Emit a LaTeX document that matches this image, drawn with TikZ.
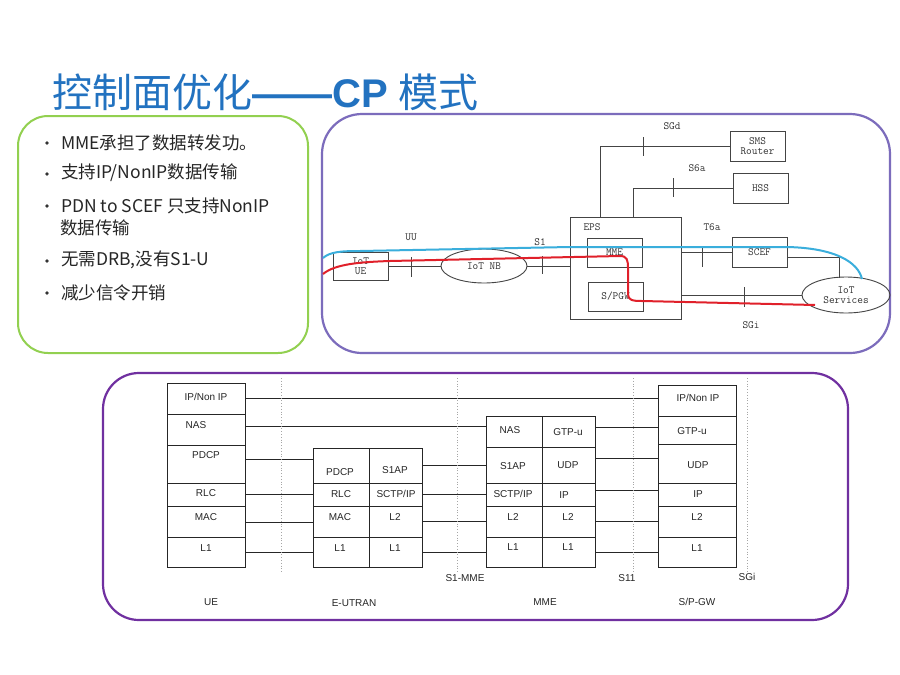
\documentclass[tikz,border=0pt]{standalone}
\usepackage{fontspec}
\setmainfont{Liberation Sans}
\newfontfamily\cjk{Noto Sans CJK SC}
\usetikzlibrary{shapes.geometric}
\definecolor{titleblue}{HTML}{2272C0}
\definecolor{boxgreen}{HTML}{92D050}
\definecolor{boxlav}{HTML}{7C6CBC}
\definecolor{boxpurple}{HTML}{7030A0}
\definecolor{netgray}{HTML}{444444}
\definecolor{curvered}{HTML}{E0202A}
\definecolor{curveblue}{HTML}{3AAEDC}
\newcommand\stkcell[5]{\node[cell, minimum width=#4, minimum height=#5, anchor=north west] (#1) at (#2,#3) {};}
\begin{document}
\begin{tikzpicture}[x=1pt,y=-1pt,
 netbox/.style={draw=netgray, line width=0.9pt, inner sep=0, font=\ttfamily\fontsize{11}{10}\selectfont, text=black!80, align=center},
 netell/.style={netbox, ellipse},
 netlbl/.style={inner sep=0, font=\ttfamily\fontsize{11}{11}\selectfont, text=black!80},
 netline/.style={draw=netgray, line width=0.9pt},
 cell/.style={draw=black!85, line width=0.9pt, inner sep=0},
 stk/.style={inner sep=0, font=\fontsize{10}{12}\selectfont, text=black!85},
 link/.style={draw=black!85, line width=0.8pt},
 sepline/.style={draw=gray!70, dotted, line width=0.8pt},
 bul/.style={inner sep=0, anchor=west, font=\cjk\fontsize{17.5}{22}\selectfont, text=black!85},
 dotb/.style={circle, fill=black!80, inner sep=0, minimum size=3.6pt},
]
\path[use as bounding box, fill=white] (0,0) rectangle (900,675);

% title
\node[anchor=west, inner sep=0, text=titleblue] (title) at (52,92)
  {\cjk\fontsize{40}{40}\selectfont 控制面优化{\rmfamily\bfseries\fontsize{40}{40}\selectfont ——CP }模式};

% frames
\draw[boxgreen, line width=2pt, rounded corners=30pt] (18,116) rectangle (308,353);
\draw[boxlav, line width=2.2pt, rounded corners=40pt] (322,114) rectangle (890,353);
\draw[boxpurple, line width=2.2pt, rounded corners=36pt] (103,373) rectangle (848,620);

% bullets
\node[dotb] (d1) at (47,143) {};
\node[dotb] (d2) at (47,174) {};
\node[dotb] (d3) at (47,206) {};
\node[dotb] (d4) at (47,261) {};
\node[dotb] (d5) at (47,293) {};
\node[bul] (b1) at (61,143) {MME承担了数据转发功。};
\node[bul] (b2) at (61,173) {支持IP/NonIP数据传输};
\node[bul] (b3) at (61,206) {PDN to SCEF 只支持NonIP};
\node[bul] (b3b) at (60,228) {数据传输};
\node[bul] (b4) at (61,260) {无需DRB,没有S1-U};
\node[bul] (b5) at (61,293) {减少信令开销};

% ---------- network diagram ----------
\node[netbox, minimum width=111, minimum height=102] (eps) at (625.5,268) {};
\node[netlbl] (epsl) at (592,227) {EPS};
\node[netbox, minimum width=55, minimum height=28] (ue) at (360.5,266) {IoT\\UE};
\node[netell, minimum width=86, minimum height=34] (nb) at (484,266) {IoT NB};
\node[netbox, minimum width=55, minimum height=29] (mme) at (614.5,252.5) {MME};
\node[netbox, minimum width=55, minimum height=29] (pgw) at (615.5,296.5) {S/PGW};
\node[netbox, minimum width=55, minimum height=30] (sms) at (757.5,146) {SMS\\Router};
\node[netbox, minimum width=55, minimum height=30] (hss) at (760.5,188) {HSS};
\node[netbox, minimum width=55, minimum height=30] (scef) at (759.5,252) {SCEF};
\node[netell, minimum width=88, minimum height=36] (ios) at (846,295) {IoT\\Services};

\node[netlbl] (luu) at (411,237) {UU};
\node[netlbl] (ls1) at (540,242) {S1};
\node[netlbl] (lsgd) at (672,126) {SGd};
\node[netlbl] (ls6a) at (697,168) {S6a};
\node[netlbl] (lt6a) at (712,227) {T6a};
\node[netlbl] (lsgi) at (751,325) {SGi};

\coordinate (sgdc) at (600,146);
\coordinate (s6ac) at (633,188);
\coordinate (scefc) at (839,257);
\coordinate (iostop) at (839,277.5);

\draw[netline] (ue.east) -- (nb.west);
\draw[netline] (nb.east) -- (nb.east -| eps.west);
\draw[netline] (sgdc |- eps.north) -- (sgdc) -- (sms.west);
\draw[netline] (s6ac |- eps.north) -- (s6ac) -- (hss.west);
\draw[netline] (eps.east |- scef.west) -- (scef.west);
\draw[netline] (scef.east |- scefc) -- (scefc) -- (iostop);
\draw[netline] (eps.east |- ios.west) -- (ios.west);
% ticks
\draw[netline] (411,257) -- (411,277);
\draw[netline] (542,256) -- (542,274);
\draw[netline] (643,137) -- (643,156);
\draw[netline] (673,178) -- (673,197);
\draw[netline] (702,248) -- (702,267);
\draw[netline] (744,287) -- (744,307);

% flows
\draw[curveblue, line width=2pt] (323,258) .. controls (330,252) and (340,251) .. (360,251)
  -- (570,247) -- (787,247) .. controls (835,248) and (858,262) .. (862,279);
\draw[curvered, line width=2pt] (323,274) .. controls (335,264) and (360,262) .. (390,261)
  -- (620,256) .. controls (627,256) and (628,260) .. (628,268) -- (628,294)
  .. controls (628,300) and (632,301) .. (642,301) -- (815,305);

% ---------- protocol stacks ----------
\stkcell{ueA}{167}{383}{78}{31}
\stkcell{ueB}{167}{414}{78}{31}
\stkcell{ueC}{167}{445}{78}{38}
\stkcell{ueD}{167}{483}{78}{23}
\stkcell{ueE}{167}{506}{78}{31}
\stkcell{ueF}{167}{537}{78}{30}

\stkcell{enA}{313}{448}{56}{35} \stkcell{enB}{369}{448}{53}{35}
\stkcell{enC}{313}{483}{56}{23} \stkcell{enD}{369}{483}{53}{23}
\stkcell{enE}{313}{506}{56}{31} \stkcell{enF}{369}{506}{53}{31}
\stkcell{enG}{313}{537}{56}{30} \stkcell{enH}{369}{537}{53}{30}

\stkcell{mmA}{486}{416}{56}{31} \stkcell{mmB}{542}{416}{53}{31}
\stkcell{mmC}{486}{447}{56}{36} \stkcell{mmD}{542}{447}{53}{36}
\stkcell{mmE}{486}{483}{56}{23} \stkcell{mmF}{542}{483}{53}{23}
\stkcell{mmG}{486}{506}{56}{31} \stkcell{mmH}{542}{506}{53}{31}
\stkcell{mmI}{486}{537}{56}{30} \stkcell{mmJ}{542}{537}{53}{30}

\stkcell{gwA}{658}{385}{78}{31}
\stkcell{gwB}{658}{416}{78}{28}
\stkcell{gwC}{658}{444}{78}{39}
\stkcell{gwD}{658}{483}{78}{23}
\stkcell{gwE}{658}{506}{78}{31}
\stkcell{gwF}{658}{537}{78}{30}

\draw[link] (ueA.east |- 0,398) -- (gwA.west |- 0,398);
\draw[link] (ueB.east |- 0,426) -- (mmA.west |- 0,426);
\draw[link] (ueC.east |- 0,459) -- (enA.west |- 0,459);
\draw[link] (ueD.east |- 0,494) -- (enC.west |- 0,494);
\draw[link] (ueE.east |- 0,522) -- (enE.west |- 0,522);
\draw[link] (ueF.east |- 0,552) -- (enG.west |- 0,552);
\draw[link] (enB.east |- 0,465) -- (mmC.west |- 0,465);
\draw[link] (enD.east |- 0,494) -- (mmE.west |- 0,494);
\draw[link] (enF.east |- 0,521) -- (mmG.west |- 0,521);
\draw[link] (enH.east |- 0,552) -- (mmI.west |- 0,552);
\draw[link] (mmB.east |- 0,427) -- (gwB.west |- 0,427);
\draw[link] (mmD.east |- 0,458) -- (gwC.west |- 0,458);
\draw[link] (mmF.east |- 0,490) -- (gwD.west |- 0,490);
\draw[link] (mmH.east |- 0,521) -- (gwE.west |- 0,521);
\draw[link] (mmJ.east |- 0,552) -- (gwF.west |- 0,552);

\draw[sepline] (281,378) -- (281,572);
\draw[sepline] (457,378) -- (457,572);
\draw[sepline] (633,378) -- (633,572);
\draw[sepline] (747,378) -- (747,572);

\node[stk] (t1) at (206,397) {IP/Non IP};
\node[stk] (t2) at (196,425) {NAS};
\node[stk] (t3) at (206,455) {PDCP};
\node[stk] (t4) at (206,493) {RLC};
\node[stk] (t5) at (206,517) {MAC};
\node[stk] (t6) at (206,548) {L1};

\node[stk] (e1) at (340,472) {PDCP};
\node[stk] (e2) at (395,470) {S1AP};
\node[stk] (e3) at (341,494) {RLC};
\node[stk] (e4) at (396,494) {SCTP/IP};
\node[stk] (e5) at (340,517) {MAC};
\node[stk] (e6) at (395,517) {L2};
\node[stk] (e7) at (340,548) {L1};
\node[stk] (e8) at (395,548) {L1};

\node[stk] (m1) at (510,430) {NAS};
\node[stk] (m2) at (568,432) {GTP-u};
\node[stk] (m3) at (513,466) {S1AP};
\node[stk] (m4) at (568,465) {UDP};
\node[stk] (m5) at (513,494) {SCTP/IP};
\node[stk] (m6) at (564,495) {IP};
\node[stk] (m7) at (513,517) {L2};
\node[stk] (m8) at (568,517) {L2};
\node[stk] (m9) at (513,547) {L1};
\node[stk] (m10) at (568,547) {L1};

\node[stk] (g1) at (698,398) {IP/Non IP};
\node[stk] (g2) at (692,431) {GTP-u};
\node[stk] (g3) at (698,465) {UDP};
\node[stk] (g4) at (698,494) {IP};
\node[stk] (g5) at (697,517) {L2};
\node[stk] (g6) at (697,548) {L1};

\node[stk] (s1) at (465,578) {S1-MME};
\node[stk] (s2) at (627,578) {S11};
\node[stk] (s3) at (747,577) {SGi};

\node[stk] (n1) at (211,602) {UE};
\node[stk] (n2) at (354,603) {E-UTRAN};
\node[stk] (n3) at (545,602) {MME};
\node[stk] (n4) at (697,602) {S/P-GW};
\end{tikzpicture}
\end{document}
